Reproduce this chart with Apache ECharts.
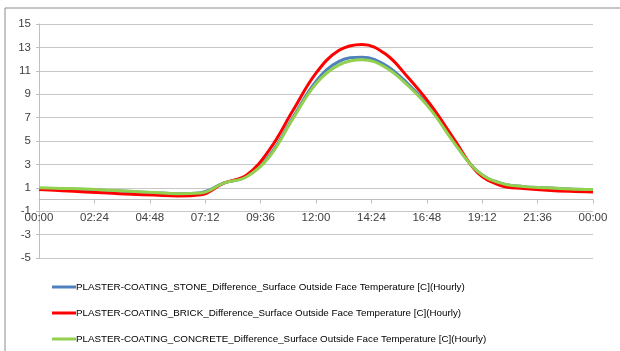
<!DOCTYPE html>
<html>
<head>
<meta charset="utf-8">
<script src="https://cdn.jsdelivr.net/npm/echarts@6/dist/echarts.min.js"></script>
<style>
  html, body { margin: 0; padding: 0; background: #fff; }
  #chart { width: 620px; height: 351px; }
</style>
</head>
<body>
<div id="chart"></div>
<script>
// hour of day (0..24) and hourly values
var hours = [0, 1, 2, 3, 4, 5, 6, 7, 8, 9, 10, 11, 12, 13, 14, 15, 16, 17, 18, 19, 20, 21, 22, 23, 24];
var stone = [0.95, 0.9, 0.85, 0.78, 0.68, 0.58, 0.5, 0.58, 1.4, 1.98, 3.8, 7.0, 10.1, 11.8, 12.15, 11.5, 9.85, 7.7, 4.85, 2.4, 1.4, 1.1, 1.0, 0.9, 0.85];
var brick = [0.85, 0.75, 0.65, 0.55, 0.45, 0.38, 0.3, 0.4, 1.4, 2.1, 4.3, 7.6, 10.8, 12.75, 13.25, 12.45, 10.4, 8.0, 5.1, 2.3, 1.2, 0.95, 0.8, 0.7, 0.65];
var concrete = [1.0, 0.95, 0.9, 0.8, 0.7, 0.6, 0.5, 0.55, 1.4, 1.95, 3.7, 6.9, 9.9, 11.5, 11.95, 11.3, 9.7, 7.6, 4.8, 2.4, 1.4, 1.1, 1.0, 0.9, 0.85];
var names = [
    'PLASTER-COATING_STONE_Difference_Surface Outside Face Temperature [C](Hourly)',
    'PLASTER-COATING_BRICK_Difference_Surface Outside Face Temperature [C](Hourly)',
    'PLASTER-COATING_CONCRETE_Difference_Surface Outside Face Temperature [C](Hourly)'
];
var colors = ['#4F81BD', '#FF0000', '#92D050'];

function pairs(vals) {
    return hours.map(function (h, i) { return [h, vals[i]]; });
}

function fmtTime(v) {
    var mins = Math.round(v * 60) % (24 * 60);
    var hh = Math.floor(mins / 60);
    var mm = mins % 60;
    return (hh < 10 ? '0' : '') + hh + ':' + (mm < 10 ? '0' : '') + mm;
}

var myChart = echarts.init(document.getElementById('chart'), null, { renderer: 'canvas' });

// one legend per row so they stack like the original
var legendTops = [277, 303, 329];
var legends = names.map(function (n, i) {
    return {
        left: 47,
        top: legendTops[i],
        itemWidth: 24,
        itemHeight: 3,
        icon: 'rect',
        textStyle: { fontFamily: 'Liberation Sans, sans-serif', fontSize: 9.8, color: '#000', padding: [0, 0, 0, -5] },
        data: [n]
    };
});

// grid: top 24, bottom 93 -> plot height 234 for 20 units, zero sits 5 units above bottom
var zeroOffset = -(234 / 20) * 5;

var option = {
    animation: false,
    color: colors,
    graphic: [{
        type: 'rect',
        shape: { x: 5, y: 8, width: 640, height: 360 },
        style: { fill: 'none', stroke: '#8c8c8c', lineWidth: 1 },
        silent: true
    }],
    grid: { left: 39, right: 27, top: 24, bottom: 93 },
    legend: legends,
    xAxis: {
        type: 'value',
        min: 0,
        max: 24,
        interval: 2.4,
        offset: zeroOffset,
        axisLine: { onZero: false, lineStyle: { color: '#bfbfbf', width: 1 } },
        axisTick: { show: true, length: 4, inside: false, lineStyle: { color: '#bfbfbf' } },
        axisLabel: { margin: 12, color: '#404040', fontFamily: 'Liberation Sans, sans-serif', fontSize: 11.5, formatter: fmtTime, showMaxLabel: true, showMinLabel: true },
        splitLine: { show: false }
    },
    yAxis: {
        type: 'value',
        min: -5,
        max: 15,
        interval: 2,
        axisLine: { show: true, onZero: false, lineStyle: { color: '#bfbfbf' } },
        axisTick: { show: true, length: 3, lineStyle: { color: '#bfbfbf' } },
        axisLabel: { margin: 8, color: '#404040', fontFamily: 'Liberation Sans, sans-serif', fontSize: 11.5 },
        splitLine: { show: true, lineStyle: { color: '#c8c8c8', width: 1 } }
    },
    series: [
        { name: names[0], type: 'line', smooth: 0.4, showSymbol: false, lineStyle: { width: 3, color: colors[0] }, data: pairs(stone) },
        { name: names[1], type: 'line', smooth: 0.4, showSymbol: false, lineStyle: { width: 3, color: colors[1] }, data: pairs(brick) },
        { name: names[2], type: 'line', smooth: 0.4, showSymbol: false, lineStyle: { width: 3, color: colors[2] }, data: pairs(concrete) }
    ]
};

myChart.setOption(option);
</script>
</body>
</html>
